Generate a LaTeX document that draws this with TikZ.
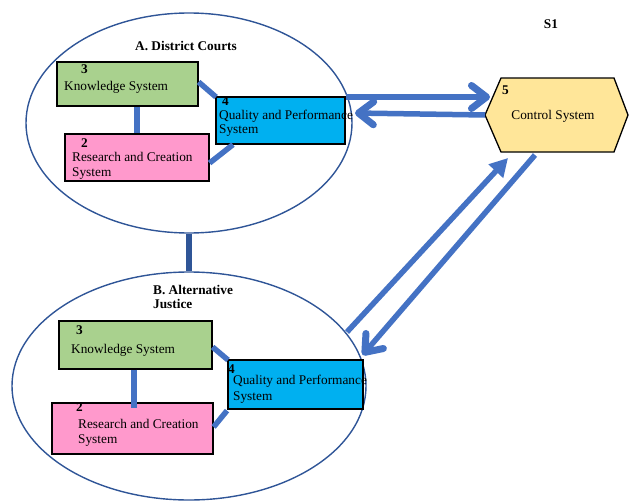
\documentclass[tikz,border=0pt]{standalone}
\usepackage{fontspec}
\setmainfont{Liberation Serif}
\usetikzlibrary{arrows.meta,shapes.geometric,calc}
\definecolor{ringblue}{HTML}{2F5597}
\definecolor{linkblue}{HTML}{4472C4}
\definecolor{knowgreen}{HTML}{A9D18E}
\definecolor{respink}{HTML}{FF99CC}
\definecolor{qualblue}{HTML}{00B0F0}
\definecolor{ctrlyellow}{HTML}{FFE699}
\begin{document}
\begin{tikzpicture}[x=1pt,y=-1pt,
  every node/.style={font=\fontsize{13.3}{15}\selectfont},
  box/.style={draw=black, line width=1.6pt, rectangle, inner sep=0pt, anchor=north west},
  txt/.style={anchor=base west, inner sep=0pt},
  num/.style={txt, font=\fontsize{13.3}{15}\selectfont\bfseries},
  ring/.style={ellipse, draw=ringblue, line width=1.4pt, inner sep=0pt},
  link/.style={draw=linkblue, line width=5.5pt},
  flow/.style={link, -{Straight Barb[length=15pt,width=23pt,round,line width=7pt]}},
  sflow/.style={link, -{Triangle[length=18pt,width=19pt]}},
]
\useasboundingbox (0,0) rectangle (629,503);

% the two groups
\node[ring, minimum width=326, minimum height=220] (ea) at (189,123) {};
\node[ring, minimum width=354, minimum height=228] (eb) at (189,386) {};
\draw[draw=ringblue, line width=6pt] (ea.south) -- (eb.north);

\node[num, anchor=base] (ta) at (186,51) {A. District Courts};
\node[num] (tb1) at (153,294) {B. Alternative};
\node[num] (tb2) at (153,308) {Justice};
\node[num, anchor=base] (s1) at (551,29) {S1};

% group A boxes
\node[box, fill=knowgreen, minimum width=141, minimum height=44] (ka) at (56,61) {};
\node[box, fill=respink, minimum width=144, minimum height=47] (ra) at (64,133) {};
\node[box, fill=qualblue, minimum width=129, minimum height=47] (qa) at (215,96) {};

\node[num] (ka3) at (81,74) {3};
\node[txt] (kat) at (64,91) {Knowledge System};
\node[num] (ra2) at (81,147) {2};
\node[txt] (rat1) at (72,161) {Research and Creation};
\node[txt] (rat2) at (72,176) {System};
\node[num] (qa4) at (222,105) {4};
\node[txt] (qat1) at (219,119) {Quality and Performance};
\node[txt] (qat2) at (219,133) {System};

\draw[link] (ka.south -| 137,0) -- (ra.north -| 137,0);
\draw[link] (ka.east |- 0,82) -- ($(qa.north west)+(1,1)$);
\draw[link] ($(qa.south west)+(18,0)$) -- (ra.east |- 0,163);

% group B boxes
\node[box, fill=knowgreen, minimum width=153, minimum height=48] (kb) at (58,320) {};
\node[box, fill=respink, minimum width=161, minimum height=51] (rb) at (51,402) {};
\node[box, fill=qualblue, minimum width=135, minimum height=49] (qb) at (227,359) {};

\node[num] (kb3) at (76,334) {3};
\node[txt] (kbt) at (71,353) {Knowledge System};
\node[num] (rb2) at (76,411) {2};
\node[txt] (rbt1) at (78,428) {Research and Creation};
\node[txt] (rbt2) at (78,443) {System};
\node[num] (qb4) at (228,373) {4};
\node[txt] (qbt1) at (233,384) {Quality and Performance};
\node[txt] (qbt2) at (233,400) {System};

\draw[link] (kb.south -| 134,0) -- (134,408);
\draw[link] (kb.east |- 0,347) -- ($(qb.north west)+(1,1)$);
\draw[link] ($(qb.south west)+(0,1)$) -- (rb.east |- 0,427);

% control system
\draw[draw=black, line width=1.3pt, fill=ctrlyellow]
  (485,115) -- (501,78) -- (614,78) -- (628,115) -- (614,152) -- (501,152) -- cycle;
\node (cs) at (553,116) {Control System};
\node[num] (cs5) at (502,95) {5};
\coordinate (cw) at (485,115);
\coordinate (cnw) at (490,97);
\coordinate (csw) at (508,158);
\coordinate (cs2) at (535,155);

% flows between the groups and the control system
\draw[flow] (qa.east |- 0,97) -- (cnw);
\draw[flow] (cw) -- (355,113);
\draw[sflow] (347,332) -- (csw);
\draw[flow] (cs2) -- ($(qb.north east)+(-1,-4)$);
\end{tikzpicture}
\end{document}
